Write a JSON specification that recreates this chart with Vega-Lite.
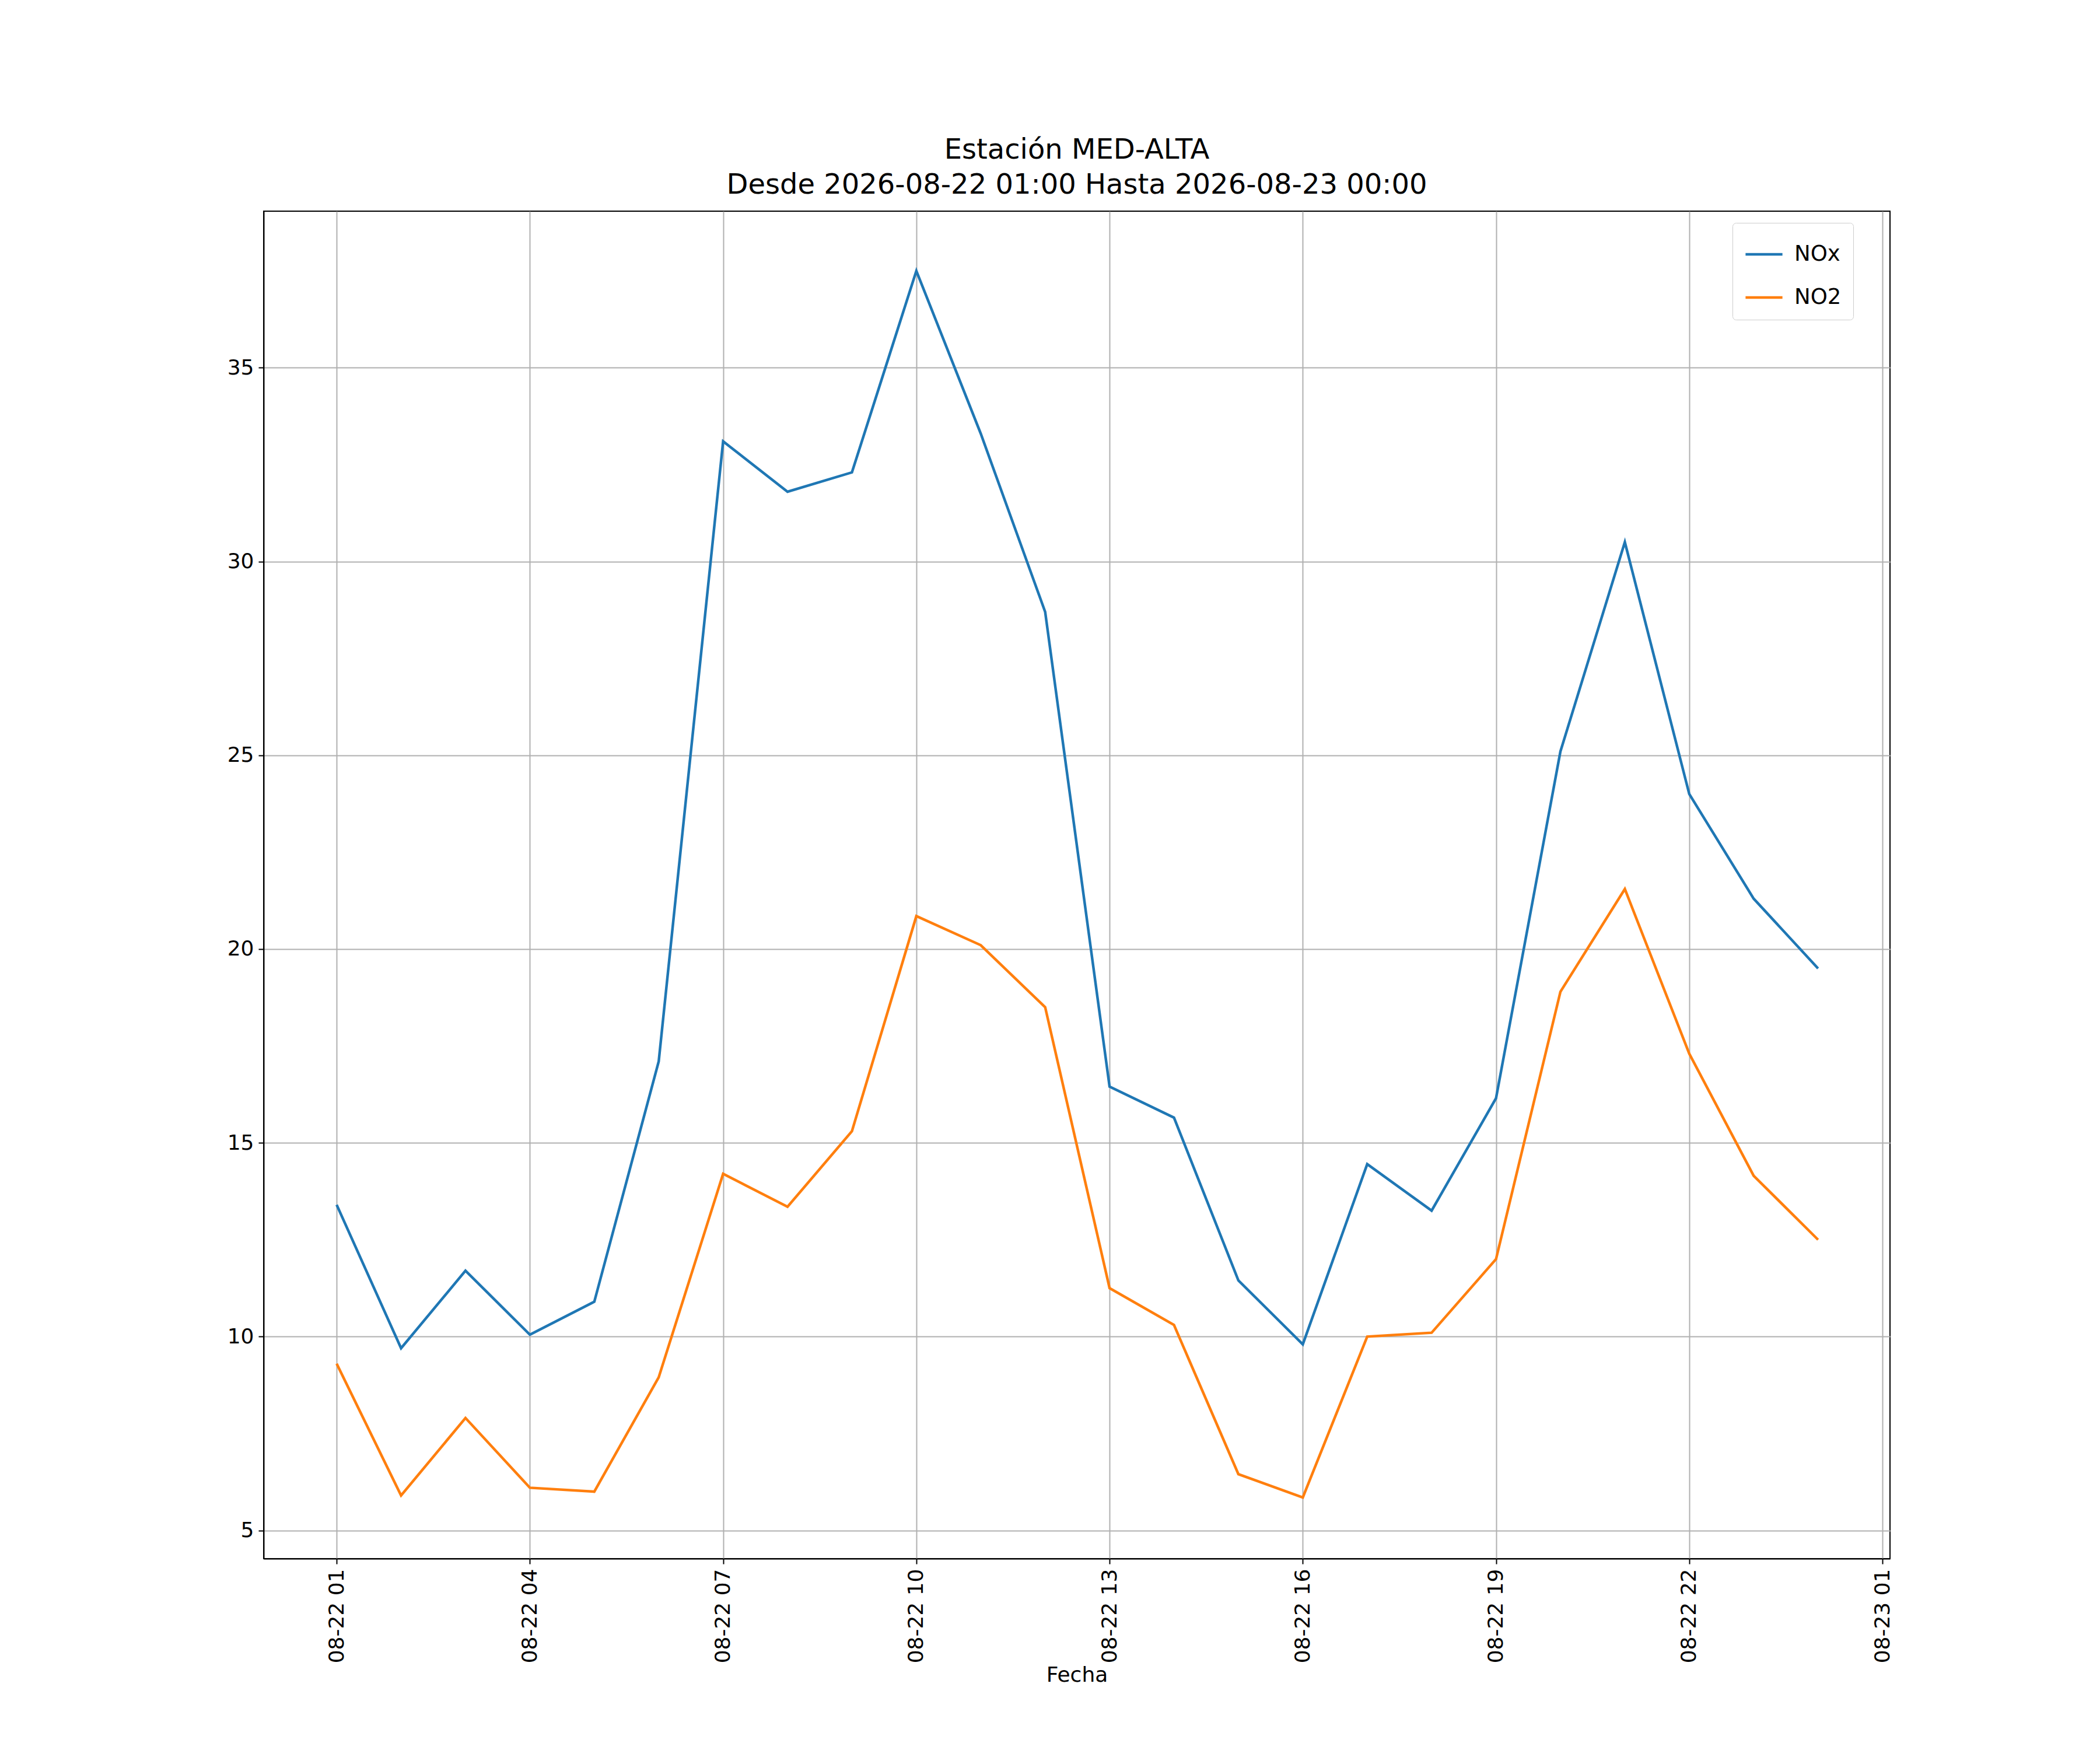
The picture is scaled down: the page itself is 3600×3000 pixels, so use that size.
{
  "$schema": "https://vega.github.io/schema/vega-lite/v6.json",
  "width": 2788,
  "height": 2310,
  "autosize": "none",
  "padding": {"left": 452, "top": 362, "right": 360, "bottom": 328},
  "background": "white",
  "title": {
    "text": ["Estación MED-ALTA", "Desde 2026-08-22 01:00 Hasta 2026-08-23 00:00"],
    "font": "DejaVu Sans",
    "fontSize": 48,
    "fontWeight": "normal",
    "lineHeight": 60,
    "offset": 20,
    "anchor": "middle"
  },
  "config": {
    "view": {"stroke": "black", "strokeWidth": 2},
    "font": "DejaVu Sans",
    "axis": {
      "labelFont": "DejaVu Sans", "labelFontSize": 36, "labelColor": "black",
      "titleFont": "DejaVu Sans", "titleFontSize": 36, "titleFontWeight": "normal", "titleColor": "black",
      "domainColor": "black", "domainWidth": 2, "tickColor": "black", "tickWidth": 2, "tickSize": 9,
      "gridColor": "#b0b0b0", "gridWidth": 2, "labelPadding": 8
    }
  },
  "data": {"values": [
    {"fecha":"2026-08-22T01:00:00Z","NOx":13.4,"NO2":9.3},
    {"fecha":"2026-08-22T02:00:00Z","NOx":9.7,"NO2":5.9},
    {"fecha":"2026-08-22T03:00:00Z","NOx":11.7,"NO2":7.9},
    {"fecha":"2026-08-22T04:00:00Z","NOx":10.05,"NO2":6.1},
    {"fecha":"2026-08-22T05:00:00Z","NOx":10.9,"NO2":6.0},
    {"fecha":"2026-08-22T06:00:00Z","NOx":17.1,"NO2":8.95},
    {"fecha":"2026-08-22T07:00:00Z","NOx":33.1,"NO2":14.2},
    {"fecha":"2026-08-22T08:00:00Z","NOx":31.8,"NO2":13.35},
    {"fecha":"2026-08-22T09:00:00Z","NOx":32.3,"NO2":15.3},
    {"fecha":"2026-08-22T10:00:00Z","NOx":37.5,"NO2":20.85},
    {"fecha":"2026-08-22T11:00:00Z","NOx":33.3,"NO2":20.1},
    {"fecha":"2026-08-22T12:00:00Z","NOx":28.7,"NO2":18.5},
    {"fecha":"2026-08-22T13:00:00Z","NOx":16.45,"NO2":11.25},
    {"fecha":"2026-08-22T14:00:00Z","NOx":15.65,"NO2":10.3},
    {"fecha":"2026-08-22T15:00:00Z","NOx":11.45,"NO2":6.45},
    {"fecha":"2026-08-22T16:00:00Z","NOx":9.8,"NO2":5.85},
    {"fecha":"2026-08-22T17:00:00Z","NOx":14.45,"NO2":10.0},
    {"fecha":"2026-08-22T18:00:00Z","NOx":13.25,"NO2":10.1},
    {"fecha":"2026-08-22T19:00:00Z","NOx":16.15,"NO2":12.0},
    {"fecha":"2026-08-22T20:00:00Z","NOx":25.1,"NO2":18.9},
    {"fecha":"2026-08-22T21:00:00Z","NOx":30.5,"NO2":21.55},
    {"fecha":"2026-08-22T22:00:00Z","NOx":24.0,"NO2":17.3},
    {"fecha":"2026-08-22T23:00:00Z","NOx":21.3,"NO2":14.15},
    {"fecha":"2026-08-23T00:00:00Z","NOx":19.5,"NO2":12.5}
  ]},
  "transform": [{"fold": ["NOx", "NO2"], "as": ["serie", "valor"]}],
  "mark": {"type": "line", "strokeWidth": 4.5, "clip": true},
  "encoding": {
    "x": {
      "field": "fecha", "type": "temporal", "title": "Fecha",
      "scale": {"type": "utc", "domain": [
        {"year": 2026, "month": 8, "date": 21, "hours": 23, "minutes": 52, "utc": true},
        {"year": 2026, "month": 8, "date": 23, "hours": 1, "minutes": 7, "utc": true}
      ]},
      "axis": {
        "labelExpr": "utcFormat(datum.value, '%m-%d %H')", "labelAngle": -90, "labelAlign": "right", "labelBaseline": "middle",
        "values": [
          {"year": 2026, "month": 8, "date": 22, "hours": 1, "utc": true},
          {"year": 2026, "month": 8, "date": 22, "hours": 4, "utc": true},
          {"year": 2026, "month": 8, "date": 22, "hours": 7, "utc": true},
          {"year": 2026, "month": 8, "date": 22, "hours": 10, "utc": true},
          {"year": 2026, "month": 8, "date": 22, "hours": 13, "utc": true},
          {"year": 2026, "month": 8, "date": 22, "hours": 16, "utc": true},
          {"year": 2026, "month": 8, "date": 22, "hours": 19, "utc": true},
          {"year": 2026, "month": 8, "date": 22, "hours": 22, "utc": true},
          {"year": 2026, "month": 8, "date": 23, "hours": 1, "utc": true}
        ]
      }
    },
    "y": {
      "field": "valor", "type": "quantitative", "title": null,
      "scale": {"domain": [4.27, 39.04], "nice": false, "zero": false},
      "axis": {"values": [5, 10, 15, 20, 25, 30, 35]}
    },
    "color": {
      "field": "serie", "type": "nominal", "title": null,
      "scale": {"domain": ["NOx", "NO2"], "range": ["#1f77b4", "#ff7f0e"]},
      "legend": {
        "orient": "none", "legendX": 2518, "legendY": 20,
        "symbolType": "stroke", "symbolSize": 4000, "symbolStrokeWidth": 4.5,
        "labelFontSize": 37, "labelFont": "DejaVu Sans", "labelColor": "black", "labelOffset": 18,
        "rowPadding": 22, "padding": 20,
        "strokeColor": "#cccccc", "fillColor": "white", "cornerRadius": 6
      }
    }
  }
}
